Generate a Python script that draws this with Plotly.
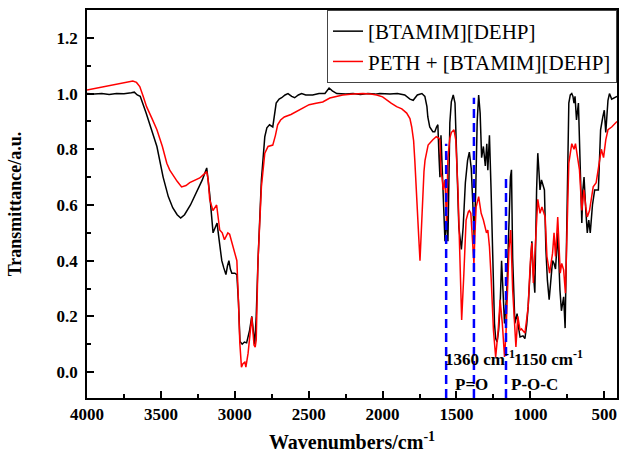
import plotly.graph_objects as go

# ---------------- data ----------------
bt_wn = [4000, 3950, 3900, 3850, 3800, 3750, 3700, 3680, 3660, 3640, 3600, 3560, 3527, 3485, 3450, 3420, 3390, 3366,
         3340, 3300, 3260, 3220, 3190, 3170, 3147, 3130, 3120, 3105, 3088, 3075, 3060, 3050, 3040, 3030, 3020, 3000,
         2986, 2975, 2965, 2950, 2935, 2920, 2900, 2885, 2875, 2865, 2855, 2843, 2820, 2797, 2783, 2765, 2743, 2730,
         2720, 2700, 2683, 2660, 2640, 2615, 2595, 2570, 2548, 2520, 2473, 2430, 2390, 2362, 2340, 2310, 2250, 2200,
         2150, 2100, 2050, 2019, 1950, 1900, 1850, 1815, 1793, 1765, 1734, 1714, 1700, 1694, 1681, 1660, 1647, 1635,
         1626, 1618, 1612, 1605, 1598, 1590, 1578, 1570, 1565, 1558, 1550, 1545, 1535, 1522, 1510, 1497, 1484, 1467,
         1455, 1440, 1425, 1413, 1400, 1390, 1380, 1370, 1360, 1350, 1340, 1330, 1318, 1305, 1295, 1288, 1277, 1266,
         1252, 1243, 1235, 1225, 1215, 1205, 1195, 1185, 1175, 1160, 1145, 1135, 1128, 1120, 1105, 1090, 1080, 1070,
         1050, 1037, 1025, 1015, 1000, 990, 982, 970, 958, 950, 942, 935, 925, 915, 905, 895, 885, 873, 860, 850, 840,
         830, 815, 808, 800, 790, 775, 765, 758, 750, 740, 730, 720, 712, 705, 698, 688, 675, 665, 652, 645, 637, 625,
         615, 605, 595, 580, 565, 540, 525, 510, 500, 490, 475, 465, 450, 414]
bt_T = [1.000, 0.998, 1.000, 0.997, 1.000, 0.999, 1.003, 1.005, 0.995, 0.990, 0.930, 0.860, 0.810, 0.700, 0.630, 0.590,
        0.565, 0.553, 0.565, 0.600, 0.645, 0.690, 0.733, 0.640, 0.500, 0.520, 0.535, 0.470, 0.400, 0.375, 0.350, 0.380,
        0.400, 0.370, 0.355, 0.355, 0.350, 0.250, 0.110, 0.100, 0.108, 0.105, 0.150, 0.200, 0.150, 0.100, 0.200, 0.400,
        0.690, 0.845, 0.877, 0.888, 0.880, 0.930, 0.966, 0.980, 0.985, 0.995, 1.000, 0.990, 0.985, 0.995, 1.000, 0.995,
        0.995, 1.000, 1.000, 1.020, 1.010, 1.000, 0.998, 1.000, 0.997, 1.000, 0.998, 1.000, 0.998, 1.000, 0.995, 0.980,
        0.976, 0.995, 1.000, 0.990, 0.953, 0.916, 0.880, 0.863, 0.863, 0.880, 0.888, 0.770, 0.700, 0.850, 0.760, 0.650,
        0.470, 0.520, 0.560, 0.470, 0.700, 0.895, 0.970, 0.995, 0.966, 0.750, 0.520, 0.440, 0.520, 0.680, 0.760, 0.790,
        0.730, 0.610, 0.480, 0.650, 0.900, 0.995, 0.930, 0.770, 0.810, 0.740, 0.820, 0.725, 0.850, 0.654, 0.355, 0.175,
        0.120, 0.108, 0.150, 0.235, 0.400, 0.295, 0.175, 0.280, 0.535, 0.700, 0.726, 0.410, 0.175, 0.210, 0.160, 0.126,
        0.130, 0.120, 0.170, 0.235, 0.380, 0.470, 0.370, 0.285, 0.654, 0.786, 0.720, 0.654, 0.690, 0.670, 0.654, 0.440,
        0.330, 0.260, 0.330, 0.400, 0.390, 0.370, 0.500, 0.380, 0.295, 0.220, 0.270, 0.158, 0.410, 0.770, 0.966, 0.995,
        1.000, 0.990, 0.966, 0.990, 0.905, 0.966, 0.800, 0.535, 0.654, 0.700, 0.580, 0.500, 0.546, 0.500, 0.600, 0.654,
        0.654, 0.870, 0.916, 0.940, 0.860, 0.976, 1.000, 0.980, 0.990]

peth_wn = [4000, 3950, 3900, 3850, 3800, 3750, 3720, 3690, 3665, 3643, 3620, 3597, 3560, 3527, 3490, 3460, 3440, 3418,
           3390, 3360, 3330, 3305, 3270, 3237, 3210, 3190, 3180, 3170, 3148, 3123, 3102, 3085, 3070, 3047, 3035, 3022,
           3000, 2986, 2975, 2966, 2955, 2945, 2932, 2925, 2910, 2895, 2885, 2870, 2862, 2855, 2843, 2820, 2797, 2775,
           2743, 2725, 2710, 2690, 2665, 2620, 2585, 2540, 2497, 2450, 2405, 2357, 2310, 2270, 2200, 2133, 2080, 2040,
           2000, 1972, 1940, 1905, 1870, 1837, 1815, 1803, 1790, 1782, 1773, 1765, 1755, 1747, 1738, 1730, 1720, 1713,
           1692, 1660, 1637, 1620, 1612, 1605, 1598, 1590, 1578, 1567, 1558, 1545, 1535, 1517, 1505, 1490, 1478, 1465,
           1450, 1435, 1420, 1413, 1403, 1392, 1382, 1375, 1367, 1350, 1340, 1333, 1318, 1305, 1297, 1288, 1277, 1266,
           1250, 1235, 1218, 1205, 1190, 1175, 1165, 1145, 1133, 1120, 1108, 1098, 1085, 1070, 1060, 1037, 1025, 1015,
           1000, 990, 980, 963, 950, 935, 922, 900, 888, 870, 850, 840, 830, 815, 798, 788, 775, 763, 752, 740, 720,
           705, 695, 680, 668, 652, 638, 625, 615, 600, 575, 555, 535, 520, 505, 490, 475, 450, 414]
peth_T = [1.013, 1.018, 1.022, 1.027, 1.032, 1.037, 1.040, 1.045, 1.040, 1.025, 0.990, 0.953, 0.910, 0.870, 0.810,
          0.750, 0.725, 0.707, 0.685, 0.665, 0.670, 0.680, 0.690, 0.697, 0.710, 0.720, 0.690, 0.620, 0.580, 0.600,
          0.510, 0.500, 0.475, 0.500, 0.495, 0.467, 0.427, 0.400, 0.250, 0.104, 0.018, 0.030, 0.036, 0.018, 0.068,
          0.150, 0.198, 0.097, 0.090, 0.115, 0.400, 0.665, 0.786, 0.810, 0.815, 0.850, 0.888, 0.905, 0.916, 0.925,
          0.935, 0.945, 0.960, 0.965, 0.970, 0.984, 0.990, 0.995, 0.998, 1.000, 0.998, 0.995, 0.988, 0.976, 0.965,
          0.953, 0.945, 0.930, 0.910, 0.880, 0.830, 0.760, 0.680, 0.580, 0.480, 0.400, 0.500, 0.643, 0.720, 0.760,
          0.815, 0.834, 0.845, 0.840, 0.834, 0.715, 0.700, 0.654, 0.690, 0.535, 0.770, 0.840, 0.860, 0.870, 0.834,
          0.654, 0.410, 0.187, 0.355, 0.546, 0.575, 0.580, 0.570, 0.480, 0.390, 0.500, 0.593, 0.630, 0.600, 0.570,
          0.546, 0.520, 0.500, 0.510, 0.450, 0.342, 0.150, 0.054, 0.150, 0.260, 0.175, 0.054, 0.140, 0.440, 0.510,
          0.295, 0.150, 0.090, 0.200, 0.150, 0.155, 0.140, 0.190, 0.235, 0.400, 0.463, 0.320, 0.500, 0.620, 0.570,
          0.593, 0.557, 0.415, 0.355, 0.427, 0.500, 0.415, 0.557, 0.355, 0.390, 0.367, 0.283, 0.535, 0.750, 0.820,
          0.800, 0.820, 0.760, 0.726, 0.580, 0.654, 0.593, 0.557, 0.580, 0.665, 0.680, 0.750, 0.800, 0.770, 0.834,
          0.870, 0.880, 0.900]

series_names = ["[BTAMIM][DEHP]", "PETH + [BTAMIM][DEHP]"]
series_colors = ["#000000", "#ff0000"]

# marker (dashed) lines: wavenumber and top value
mark_wn = [1570, 1382, 1165]
mark_top = [0.82, 0.985, 0.70]

x_ticks = [4000, 3500, 3000, 2500, 2000, 1500, 1000, 500]
y_ticks = [0.0, 0.2, 0.4, 0.6, 0.8, 1.0, 1.2]
x_range = [4000, 414]
y_range = [-0.093, 1.30]

FONT = "Liberation Serif"

fig = go.Figure()
for wn, T, name, col in [(bt_wn, bt_T, series_names[0], series_colors[0]),
                         (peth_wn, peth_T, series_names[1], series_colors[1])]:
    fig.add_trace(go.Scatter(x=wn, y=T, mode="lines", name=name,
                             line=dict(color=col, width=1.5)))

for w, top in zip(mark_wn, mark_top):
    fig.add_shape(type="line", xref="x", yref="y", x0=w, x1=w, y0=y_range[0], y1=top,
                  line=dict(color="#0000ff", width=2.5, dash="9px,5px"))

ann_font = dict(family=FONT, size=17, color="black", weight="bold")
fig.add_annotation(x=1592, y=0.05, xref="x", yref="y", text="1360 cm<sup>-1</sup>",
                   showarrow=False, xanchor="left", font=ann_font)
fig.add_annotation(x=1125, y=0.05, xref="x", yref="y", text="1150 cm<sup>-1</sup>",
                   showarrow=False, xanchor="left", font=ann_font)
fig.add_annotation(x=1396, y=-0.043, xref="x", yref="y", text="P=O",
                   showarrow=False, font=ann_font)
fig.add_annotation(x=969, y=-0.043, xref="x", yref="y", text="P-O-C",
                   showarrow=False, font=ann_font)

axis_common = dict(showline=True, linecolor="black", linewidth=1.5, mirror=True,
                   ticks="inside", ticklen=7, tickwidth=1.5, tickcolor="black",
                   showgrid=False, zeroline=False, automargin=False,
                   tickfont=dict(family=FONT, size=17, color="black", weight="bold"))

fig.update_xaxes(range=x_range, tickvals=x_ticks, ticktext=[str(v) for v in x_ticks],
                 minor=dict(ticks="inside", ticklen=4, tickwidth=1.5, tickcolor="black", dtick=250),
                 title=dict(text="Wavenumbers/cm<sup>-1</sup>",
                            font=dict(family=FONT, size=20, color="black", weight="bold"), standoff=12),
                 **axis_common)
fig.update_yaxes(range=y_range, tickvals=y_ticks, ticktext=[f"{v:.1f}" for v in y_ticks],
                 minor=dict(ticks="inside", ticklen=4, tickwidth=1.5, tickcolor="black", dtick=0.1, tick0=0),
                 ticklabelstandoff=4,
                 title=dict(text="Transmittance/a.u.",
                            font=dict(family=FONT, size=18, color="black", weight="bold"), standoff=30),
                 **axis_common)

fig.update_layout(
    width=619, height=458,
    margin=dict(l=87, r=2, t=10, b=60),
    paper_bgcolor="white", plot_bgcolor="white",
    legend=dict(x=1, y=1, xanchor="right", yanchor="top", bgcolor="white",
                bordercolor="#444444", borderwidth=1,
                font=dict(family=FONT, size=21, color="black"),
                tracegroupgap=0),
    showlegend=True,
)

fig.write_html("out.html", config={"displayModeBar": False},
               post_script="document.body.style.margin='0';document.body.style.padding='0';")
